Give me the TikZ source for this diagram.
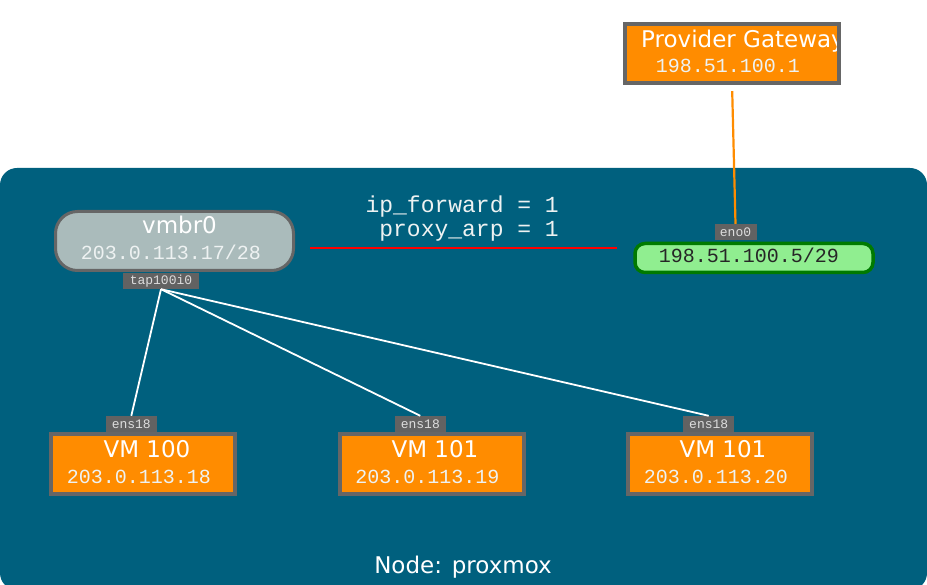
\documentclass[tikz,border=0pt]{standalone}
\usepackage{fontspec}
\setmainfont{DejaVu Sans}
\newfontfamily\monofont{Liberation Mono}
\usetikzlibrary{calc}
\definecolor{bgteal}{HTML}{00607E}
\definecolor{boxorange}{HTML}{FF8C00}
\definecolor{boxgray}{HTML}{666666}
\definecolor{labgray}{HTML}{626262}
\definecolor{labtext}{HTML}{DDDDDD}
\definecolor{brfill}{HTML}{AABBBB}
\definecolor{grfill}{HTML}{90EE90}
\definecolor{grline}{HTML}{007A00}
\definecolor{softwhite}{HTML}{EEF2F2}
\tikzset{
  vmbox/.style={draw=boxgray, line width=4pt, fill=boxorange, minimum width=184pt, minimum height=60pt, inner sep=0pt},
  tagbox/.style={fill=labgray, text=labtext, font=\monofont\fontsize{13}{13}\selectfont, inner sep=0pt, minimum height=16pt},
  titletext/.style={text=white, font=\fontsize{23}{23}\selectfont, inner sep=0pt},
  iptext/.style={text=softwhite, font=\monofont\fontsize{20}{20}\selectfont, inner sep=0pt},
  wire/.style={white, line width=1.8pt},
}
\begin{document}
\begin{tikzpicture}[x=1pt,y=-1pt]
\useasboundingbox (0,0) rectangle (927,585);
% cluster background
\fill[bgteal, rounded corners=17pt] (0,168) rectangle (927,590);
\node[titletext, anchor=base] (nodelabel) at (463,573) {Node: proxmox};

% provider gateway
\node[fill=boxorange, minimum width=214pt, minimum height=59pt, inner sep=0pt] (gw) at (732,53.5) {};
\node[titletext, anchor=base west] (gwtitle) at (641,48) {Provider Gateway};
\node[iptext, anchor=base] (gwip) at (728,73) {198.51.100.1};
\draw[boxgray, line width=4pt] (gw.south west) rectangle (gw.north east);

% eno0 / green
\node[draw=grline, line width=3.5pt, fill=grfill, rounded corners=10pt, minimum width=238pt, minimum height=29pt, inner sep=0pt] (eno) at (754,258) {};
\node[iptext, text=black!85, anchor=base] (enoip) at (749,263) {198.51.100.5/29};
\node[tagbox, minimum width=42pt] (enotag) at (735.5,232) {eno0};

% vmbr0
\node[draw=boxgray, line width=3pt, fill=brfill, rounded corners=22pt, minimum width=238pt, minimum height=59pt, inner sep=0pt] (br) at (174.5,241) {};
\node[titletext, anchor=base] (brtitle) at (179.5,234) {vmbr0};
\node[iptext, anchor=base] (brip) at (171,260) {203.0.113.17/28};
\node[tagbox, minimum width=76pt] (tap) at (161,281) {tap100i0};

% sysctl text
\node[text=softwhite, font=\monofont\fontsize{23}{23}\selectfont, inner sep=0pt, anchor=base east] (fwd) at (559,213) {ip\_forward = 1};
\node[text=softwhite, font=\monofont\fontsize{23}{23}\selectfont, inner sep=0pt, anchor=base east] (arp) at (559,237) {proxy\_arp = 1};

% VMs
\node[vmbox] (vm1) at (143,464) {};
\node[titletext, anchor=base] (vm1t) at (147,457) {VM 100};
\node[iptext, anchor=base] (vm1ip) at (139,483) {203.0.113.18};
\node[tagbox, minimum width=51pt] (ens1) at (131.3,424) {ens18};

\node[vmbox] (vm2) at (432,464) {};
\node[titletext, anchor=base] (vm2t) at (435,457) {VM 101};
\node[iptext, anchor=base] (vm2ip) at (427.5,483) {203.0.113.19};
\node[tagbox, minimum width=51pt] (ens2) at (420.3,424) {ens18};

\node[vmbox] (vm3) at (720,464) {};
\node[titletext, anchor=base] (vm3t) at (723,457) {VM 101};
\node[iptext, anchor=base] (vm3ip) at (716,483) {203.0.113.20};
\node[tagbox, minimum width=51pt] (ens3) at (708.7,424) {ens18};

% connectors
\draw[boxorange, line width=2.2pt, shorten <=8pt] (gw.south) -- (enotag.north);
\coordinate (redL) at ($(br.east)+(15,7)$);
\coordinate (redR) at ($(eno.west)+(-16,-10)$);
\draw[red, line width=2pt] (redL) -- (redR);
\draw[wire] (tap.south) -- (ens1.north);
\draw[wire] (tap.south) -- (ens2.north);
\draw[wire] (tap.south) -- (ens3.north);
\end{tikzpicture}
\end{document}
